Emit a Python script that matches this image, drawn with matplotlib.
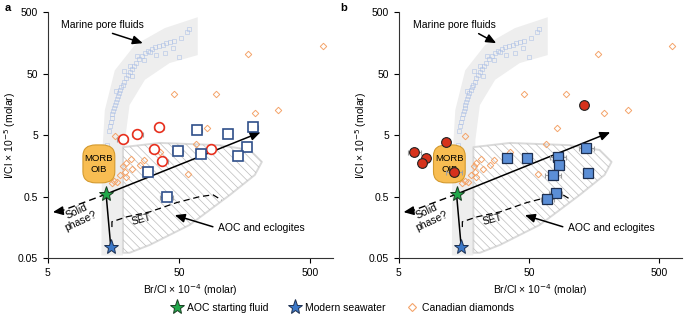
#!/usr/bin/env python

# Two-panel I/Cl vs Br/Cl plot (open vs filled samples)

import matplotlib
matplotlib.use('Agg')
import matplotlib.pyplot as plt
from matplotlib.patches import Polygon, FancyBboxPatch
from matplotlib.lines import Line2D

plt.rcParams['font.family'] = ['Liberation Sans', 'DejaVu Sans']
plt.rcParams['font.size'] = 7.5
plt.rcParams['hatch.linewidth'] = 0.5

# Marine pore fluid envelope (outer edge then inner edge)
band_brcl = [12.8, 12.9, 13.6, 16.2, 23.0, 39.0, 69.6, 69.6, 42.5, 27.5, 21.0, 19.4, 18.7]
band_icl = [0.055, 1.98, 12.9, 57.0, 147, 278, 418, 101, 75.0, 40.0, 15.5, 4.2, 0.055]

# Marine pore fluid samples
pore_brcl = [14.6, 14.9, 15.1, 15.3, 15.5, 15.8, 16.0, 16.2, 16.5, 16.8, 17.1, 17.4,
             17.8, 18.2, 18.6, 19.1, 19.7, 20.3, 21.0, 21.8, 22.6, 23.6, 24.8, 26.0,
             27.5, 29.0, 31.0, 33.0, 35.0, 37.5, 40.0, 43.0, 46.0, 52.0, 58.0, 60.0,
             21.0, 24.0, 27.0, 30.0, 33.5, 39.0, 45.0, 50.0, 14.2, 16.6, 19.0, 22.0]
pore_icl = [5.8, 7.0, 8.3, 9.6, 11.0, 12.5, 14.0, 15.5, 17.5, 19.5, 22.0, 24.0,
            27.0, 30.0, 33.0, 37.0, 42.0, 47.0, 53.0, 60.0, 67.0, 76.0, 86.0, 97.0,
            108, 118, 127, 135, 142, 150, 158, 163, 170, 190, 240, 265,
            68.0, 98.0, 84.0, 115, 100, 110, 130, 95.0, 3.5, 26.0, 55.0, 46.0]

# AOC and eclogites field
aoc_brcl = [18.7, 18.7, 35.8, 102, 174, 215, 190, 122, 60.6, 30.0, 21.0]
aoc_icl = [0.061, 3.2, 3.75, 3.45, 2.88, 1.84, 1.13, 0.53, 0.174, 0.082, 0.061]

# SET trend
set_brcl = [15.4, 15.4, 20.0, 30.0, 48.0, 72.0, 91.0, 106]
set_icl = [0.16, 0.195, 0.235, 0.283, 0.40, 0.50, 0.536, 0.44]

# End members
aoc_fluid = (13.9, 0.55)
seawater = (15.1, 0.075)
trend_end = (210, 5.6)
solid_end = (5.45, 0.28)

# Canadian diamonds
dia_brcl = [625, 169, 46.0, 95.5, 286, 189, 82.0, 16.2, 67.0, 36.0, 58.6, 21.6,
            27.0, 25.2, 19.6, 18.8, 22.0, 19.3, 17.9, 19.6, 16.9, 16.1, 15.3]
dia_icl = [143, 104, 23.5, 23.5, 12.9, 11.7, 6.5, 4.93, 3.65, 2.67, 1.19, 2.03,
           1.98, 1.64, 1.75, 1.55, 1.42, 1.24, 1.13, 1.06, 0.86, 0.90, 0.83]

# Panel a samples
a_circ_brcl = [18.6, 24.0, 35.2, 32.2, 37.3, 87.7]
a_circ_icl = [4.3, 5.25, 6.75, 2.96, 1.93, 2.96]
a_circ_err = [0.10, 0.10, 0.10, 0.08, 0.10, 0.08]
a_sq_brcl = [48.9, 28.8, 40.3, 69.0, 119, 185, 73.2, 167, 142]
a_sq_icl = [2.81, 1.25, 0.49, 6.1, 5.2, 6.75, 2.48, 3.19, 2.3]
a_sq_err = [0.10, 0.06, 0.12, 0.08, 0.06, 0.08, 0.06, 0.06, 0.06]

# Panel b samples
b_circ_brcl = [6.6, 11.6, 8.1, 7.6, 13.2, 131]
b_circ_icl = [2.64, 3.94, 2.1, 1.79, 1.28, 15.6]
b_circ_err = [0.12, 0.05, 0.05, 0.05, 0.15, 0.05]
b_sq_brcl = [34.2, 48.5, 84.0, 85.0, 76.0, 80.0, 69.0, 138, 142]
b_sq_icl = [2.1, 2.1, 2.2, 1.64, 1.12, 0.57, 0.46, 3.07, 1.2]
b_sq_err = [0.05, 0.05, 0.15, 0.05, 0.15, 0.12, 0.12, 0.15, 0.05]

fig = plt.figure(figsize=(6.85, 3.19), dpi=100)

xlim = (5, 750)
ylim = (0.05, 500)


def to_axes(ax, x, y):
    return ax.transAxes.inverted().transform(ax.transData.transform((x, y)))


def arrow(ax, start, end, ls='-'):
    ax.annotate('', xy=end, xytext=start,
                arrowprops=dict(arrowstyle='-|>,head_length=0.8,head_width=0.35',
                                color='black', lw=1.1, linestyle=ls,
                                shrinkA=0, shrinkB=0), zorder=6)


def draw_panel(ax, filled, circ, sq, pore_arrow):
    ax.set_xscale('log')
    ax.set_yscale('log')
    ax.set_xlim(xlim)
    ax.set_ylim(ylim)
    for s in ['top', 'right']:
        ax.spines[s].set_visible(False)
    ax.spines['left'].set_color('#333333')
    ax.spines['bottom'].set_color('#333333')
    ax.set_xticks([5, 50, 500])
    ax.set_xticklabels(['5', '50', '500'])
    ax.set_yticks([0.05, 0.5, 5, 50, 500])
    ax.set_yticklabels(['0.05', '0.5', '5', '50', '500'])
    ax.minorticks_off()
    ax.tick_params(direction='out', length=3.5, width=0.8, labelsize=7.5)
    ax.set_xlabel('Br/Cl × 10$^{-4}$ (molar)', fontsize=7.5, labelpad=3)
    ax.set_ylabel('I/Cl × 10$^{-5}$ (molar)', fontsize=7.5, labelpad=0)

    # pore fluid envelope and samples
    ax.add_patch(Polygon(list(zip(band_brcl, band_icl)), closed=True,
                         facecolor='#eeeeee', edgecolor='none', zorder=1))
    ax.plot(pore_brcl, pore_icl, 's', ms=2.2, mfc='none', mec='#a7bde6',
            mew=0.6, alpha=0.6, zorder=2)

    # AOC and eclogites field
    ax.add_patch(Polygon(list(zip(aoc_brcl, aoc_icl)), closed=True,
                         facecolor='white', edgecolor='#dadada', lw=1.4,
                         joinstyle='round', zorder=2))
    ax.add_patch(Polygon(list(zip(aoc_brcl, aoc_icl)), closed=True,
                         facecolor='none', edgecolor='#bdbdbd', lw=0,
                         hatch='\\\\\\\\', zorder=2))

    # diamonds
    ax.plot(dia_brcl, dia_icl, 'D', ms=3.3, mfc='none', mec='#f4a46a',
            mew=0.7, zorder=3)

    # MORB / OIB box
    x0, y0 = to_axes(ax, 9.25, 0.84)
    x1, y1 = to_axes(ax, 16.2, 3.48)
    ax.add_patch(FancyBboxPatch((x0, y0), x1 - x0, y1 - y0,
                                boxstyle='round,pad=0,rounding_size=0.045',
                                transform=ax.transAxes, facecolor='#f8bd52',
                                edgecolor='#d49a2e', lw=0.8, zorder=4))
    ax.text((x0 + x1) / 2, (y0 + y1) / 2, 'MORB\nOIB', transform=ax.transAxes,
            ha='center', va='center', fontsize=6.8, linespacing=1.2, zorder=5)

    # trends
    ax.plot([seawater[0], aoc_fluid[0]], [seawater[1], aoc_fluid[1]],
            color='black', lw=1.1, zorder=6)
    arrow(ax, aoc_fluid, trend_end)
    ax.plot([aoc_fluid[0], solid_end[0] * 1.15], [aoc_fluid[1], solid_end[1] * 1.04],
            color='black', lw=1.0, ls=(0, (5, 3)), zorder=6)
    arrow(ax, (solid_end[0] * 1.12, solid_end[1] * 1.035), solid_end)
    ax.plot(set_brcl, set_icl, color='black', lw=0.9, ls=(0, (5, 3)), zorder=6)

    # labels
    ax.text(8.6, 0.24, 'Solid\nphase?', rotation=25, ha='center', va='center',
            fontsize=7.5, linespacing=1.1, zorder=7)
    ax.text(26, 0.215, 'SET', rotation=15, ha='center', va='center',
            fontsize=7.5, zorder=7)
    ax.annotate('AOC and eclogites', xy=(46.5, 0.25), xytext=(100, 0.152),
                ha='left', va='center', fontsize=7.5,
                arrowprops=dict(arrowstyle='-|>,head_length=0.8,head_width=0.35',
                                color='black', lw=1.1, shrinkA=2, shrinkB=0,
                                relpos=(0, 0.5)), zorder=7)
    ax.annotate('Marine pore fluids', xy=pore_arrow[1], xytext=pore_arrow[0],
                ha='left', va='center', fontsize=7.5,
                arrowprops=dict(arrowstyle='-|>,head_length=0.8,head_width=0.35',
                                color='black', lw=1.1, shrinkA=1, shrinkB=0,
                                relpos=pore_arrow[2]), zorder=7)

    # samples
    cx, cy, cerr = circ
    sx, sy, serr = sq
    for x, y, e in zip(cx + sx, cy + sy, cerr + serr):
        ax.errorbar([x], [y], xerr=[[x - x / (1 + e)], [x * e]], fmt='none',
                    ecolor='#a0a0a0', elinewidth=0.8, capsize=1.8, capthick=0.8,
                    zorder=7)
    if filled:
        ax.plot(cx, cy, 'o', ms=7, mfc='#d6321c', mec='#222222', mew=0.8, zorder=8)
        ax.plot(sx, sy, 's', ms=6.5, mfc='#5b8ed6', mec='#1e2f4f', mew=0.9, zorder=8)
    else:
        ax.plot(cx, cy, 'o', ms=7, mfc='white', mec='#e8301e', mew=1.2, zorder=8)
        ax.plot(sx, sy, 's', ms=6.5, mfc='white', mec='#2f4f8a', mew=1.2, zorder=8)

    # end-member stars
    ax.plot(*aoc_fluid, '*', ms=11, mfc='#21a84a', mec='#1a3d22', mew=0.7, zorder=9)
    ax.plot(*seawater, '*', ms=11, mfc='#3c78c8', mec='#1e3050', mew=0.7, zorder=9)


ax_a = fig.add_axes([0.070, 0.191, 0.416, 0.770])
ax_b = fig.add_axes([0.582, 0.191, 0.414, 0.770])

draw_panel(ax_a, False, (a_circ_brcl, a_circ_icl, a_circ_err),
           (a_sq_brcl, a_sq_icl, a_sq_err), ((6.3, 310), (26.5, 158), (0.5, 0)))
draw_panel(ax_b, True, (b_circ_brcl, b_circ_icl, b_circ_err),
           (b_sq_brcl, b_sq_icl, b_sq_err), ((6.4, 310), (28.0, 158), (0.72, 0)))

fig.text(0.007, 0.975, 'a', fontsize=8, fontweight='bold', va='center')
fig.text(0.497, 0.975, 'b', fontsize=8, fontweight='bold', va='center')

handles = [Line2D([], [], ls='none', marker='*', ms=11, mfc='#21a84a', mec='#1a3d22', mew=0.7),
           Line2D([], [], ls='none', marker='*', ms=11, mfc='#3c78c8', mec='#1e3050', mew=0.7),
           Line2D([], [], ls='none', marker='D', ms=4, mfc='none', mec='#f4a46a', mew=0.8)]
fig.legend(handles, ['AOC starting fluid', 'Modern seawater', 'Canadian diamonds'],
           loc='center', bbox_to_anchor=(0.5, 0.035), ncol=3, frameon=False,
           fontsize=7.5, handletextpad=0.3, columnspacing=2.0, handlelength=1.2)

fig.savefig('out.png', dpi=100)
